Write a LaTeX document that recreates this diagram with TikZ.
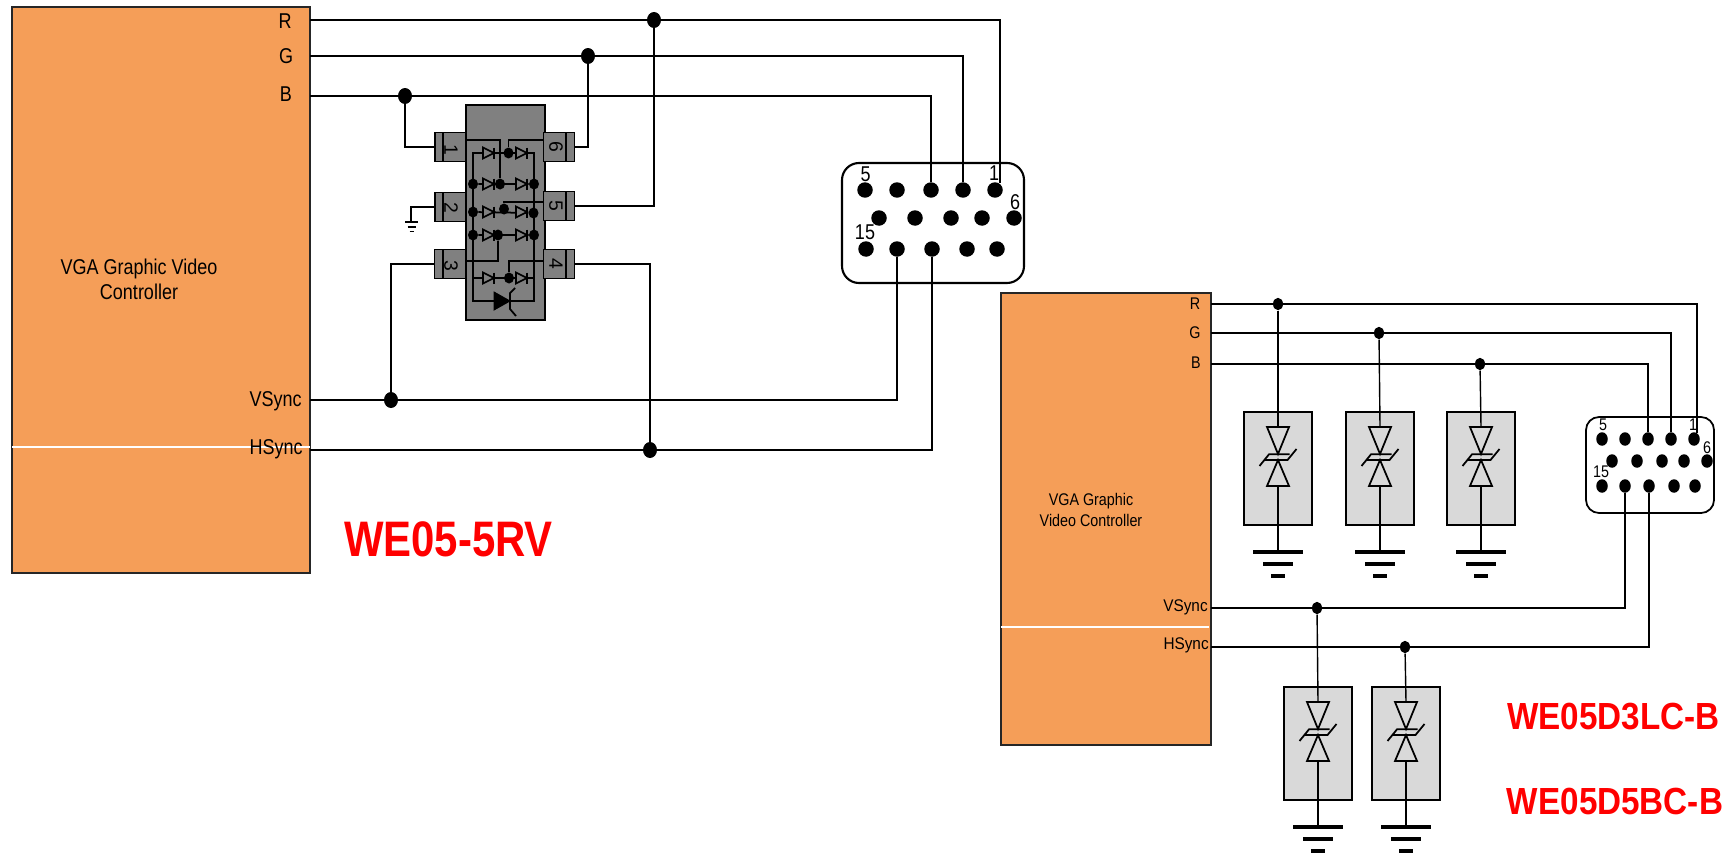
\documentclass[tikz,border=0pt]{standalone}
\usepackage{fontspec}
\setmainfont{Liberation Sans}
\usetikzlibrary{shapes.geometric}
\definecolor{ctrlorange}{HTML}{F59E58}
\definecolor{chipgray}{HTML}{808080}
\definecolor{tvsgray}{HTML}{D9D9D9}
\tikzset{
      wire/.style={draw=black, line width=1.15pt},
      thinwire/.style={draw=black, line width=1pt},
      ctrlbox/.style={draw=black!85, fill=ctrlorange, line width=1.2pt},
      bigdot/.style={shape=ellipse, fill=black, inner sep=0, minimum width=.28cm, minimum height=.32cm},
      smalldot/.style={shape=ellipse, fill=black, inner sep=0, minimum width=.2cm, minimum height=.25cm},
      chipdot/.style={shape=ellipse, fill=black, inner sep=0, minimum width=.2cm, minimum height=.22cm},
      bigpin/.style={shape=circle, fill=black, inner sep=0, minimum size=.31cm},
      smallpin/.style={shape=ellipse, fill=black, inner sep=0, minimum width=.23cm, minimum height=.27cm},
      chippin/.style={shape=rectangle, draw=black, fill=chipgray, line width=1pt, inner sep=0, minimum width=.62cm, minimum height=.58cm},
      pinnum/.style={inner sep=0, font=\fontsize{11}{13}\selectfont},
      biglabel/.style={inner sep=0, xscale=.84, transform shape, font=\fontsize{12.2}{14.2}\selectfont, align=center},
      smalllabel/.style={inner sep=0, xscale=.85, transform shape, font=\fontsize{9.6}{11.5}\selectfont, align=center},
      partlabel/.style={inner sep=0, text=red, transform shape, font=\fontsize{21.5}{26}\selectfont\bfseries},
      diode/.pic={
            \draw[fill=chipgray, line width=.9pt] (-5.5,-5.5) -- (-5.5,5.5) -- (5.5,0) -- cycle;
            \draw[line width=.9pt] (5.5,-5.5) -- (5.5,5.5);
      },
      tvs/.pic={
            \draw[fill=tvsgray, line width=1pt] (-34,0) rectangle (34,113);
            \coordinate (-in) at (0,0);
            \coordinate (-top) at (0,15);
            \coordinate (-bot) at (0,74);
            \draw[line width=1pt] (-11,15) -- (11,15) -- (0,42) -- cycle;
            \draw[line width=1pt] (-11,74) -- (11,74) -- (0,48) -- cycle;
            \draw[line width=1pt] (-18.5,54) -- (-9,42.3) -- (11.5,42.3);
            \draw[line width=1pt] (-13,48) -- (9.5,48) -- (18.5,37);
            \draw[line width=2.4pt] (-25,140) -- (25,140);
            \draw[line width=2.4pt] (-15,152) -- (15,152);
            \draw[line width=2.4pt] (-7,164) -- (7,164);
            \coordinate (-gnd) at (0,140);
      },
}
\begin{document}
\begin{tikzpicture}[x=.02cm, y=-.02cm]
        \useasboundingbox (0,0) rectangle (1733,855);

        % left controller
        \draw[ctrlbox] (12,7) rectangle (310,573);
        \draw[white, line width=.7pt] (12,447) -- (310,447);
        \node[biglabel] (ctrla) at (139,279) {VGA Graphic Video\\Controller};
        \node[biglabel] (lblr) at (285,21) {R};
        \node[biglabel] (lblg) at (286,56) {G};
        \node[biglabel] (lblb) at (286,94) {B};
        \node[biglabel, anchor=east] (lblv) at (302,401) {VSync};
        \node[biglabel, anchor=east] (lblh) at (303,449) {HSync};
        \node[partlabel, xscale=.84, font=\fontsize{28.4}{32}\selectfont\bfseries] (parta) at (448.5,539) {WE05-5RV};

        \coordinate (outr) at (310,20);
        \coordinate (outg) at (310,56);
        \coordinate (outb) at (310,96);
        \coordinate (outv) at (310,400);
        \coordinate (outh) at (310,450);

        % chip
        \draw[fill=chipgray, line width=1.2pt] (466,105) rectangle (545,320);
        \node[chippin] (pina) at (450.5,147) {};
        \node[chippin] (pinb) at (450.5,207) {};
        \node[chippin] (pinc) at (450,264) {};
        \node[chippin] (pinf) at (559,147) {};
        \node[chippin] (pine) at (559,206) {};
        \node[chippin] (pind) at (559,264) {};
        \draw[line width=1pt] (443,133) -- (443,162) (443,193) -- (443,222) (443,250) -- (443,278);
        \draw[line width=1pt] (566,133) -- (566,161) (566,192) -- (566,220) (566,250) -- (566,278);
        \node[pinnum, rotate=-90] (numa) at (451,150) {1};
        \node[pinnum, rotate=-90] (numb) at (451,207.5) {2};
        \node[pinnum, rotate=-90] (numc) at (451,266) {3};
        \node[pinnum, rotate=-90] (numf) at (556,147) {6};
        \node[pinnum, rotate=-90] (nume) at (556,206) {5};
        \node[pinnum, rotate=-90] (numd) at (556,264) {4};

        % chip inside
        \coordinate (railat) at (473,153);
        \coordinate (railab) at (473,301);
        \coordinate (railbt) at (534,153);
        \coordinate (railbb) at (534,301);
        \coordinate (pinain) at (466,140);
        \coordinate (pinfin) at (544,140);
        \coordinate (pinein) at (544,202);
        \coordinate (pincin) at (466,261);
        \coordinate (pindin) at (544,261);
        \draw[line width=1pt] (railat) -- (railab) -- (railbb) -- (railbt) -- cycle;
        \node[chipdot] (da) at (508.5,153) {};
        \node[chipdot] (db) at (473,184) {};
        \node[chipdot] (dc) at (500,184) {};
        \node[chipdot] (dd) at (534,184) {};
        \node[chipdot] (de) at (473,212) {};
        \node[chipdot] (df) at (504,209) {};
        \node[chipdot] (dg) at (533.5,213) {};
        \node[chipdot] (dh) at (473,235) {};
        \node[chipdot] (di) at (498,235) {};
        \node[chipdot] (dj) at (534,235) {};
        \node[chipdot] (dk) at (509,278) {};
        \draw[line width=1pt] (db) -- (dd) (de) -- (dg) (dh) -- (dj);
        \draw[line width=1pt] (473,278) -- (534,278);
        \draw[line width=1pt] (pinain) -| (dc);
        \draw[line width=1pt] (pinfin) -| (da);
        \draw[line width=1pt] (pinein) -| (df);
        \draw[line width=1pt] (di) |- (pincin);
        \draw[line width=1pt] (pindin) -| (dk);
        \foreach \rowy in {153,184,212,235,278} {
              \pic at (488.5,\rowy) {diode};
              \pic at (521.5,\rowy) {diode};
        }
        \draw[fill=black, line width=.5pt] (494,292) -- (494,310) -- (510,301) -- cycle;
        \draw[line width=1pt] (515,288) -- (510,293) -- (510,309) -- (516,316);

        % ground of pin 2
        \coordinate (gndb) at (411,222);
        \draw[line width=1pt] (pinb) -| (gndb);
        \draw[line width=1pt] (405,222) -- (418,222) (407.5,227) -- (415.5,227) (409.5,231.5) -- (413.5,231.5);

        % left connector
        \draw[line width=1.2pt, rounded corners=.34cm] (842,163) rectangle (1024,283);
        \node[bigpin] (caa) at (865,190) {};
        \node[bigpin] (cab) at (897,190) {};
        \node[bigpin] (cac) at (931,190) {};
        \node[bigpin] (cad) at (963,190) {};
        \node[bigpin] (cae) at (995,190) {};
        \node[bigpin] (caf) at (879,218) {};
        \node[bigpin] (cag) at (915,218) {};
        \node[bigpin] (cah) at (951,218) {};
        \node[bigpin] (cai) at (982,218) {};
        \node[bigpin] (caj) at (1014,218) {};
        \node[bigpin] (cak) at (866,249) {};
        \node[bigpin] (cal) at (897,249) {};
        \node[bigpin] (cam) at (932,249) {};
        \node[bigpin] (can) at (967,249) {};
        \node[bigpin] (cao) at (997,249) {};
        \node[biglabel] (cnuma) at (865.5,174) {5};
        \node[biglabel] (cnumb) at (994,173) {1};
        \node[biglabel] (cnumc) at (1015,202) {6};
        \node[biglabel] (cnumd) at (865,232) {15};
        \coordinate (cardr) at (1000,183);

        % left wires
        \node[bigdot] (jr) at (654,20) {};
        \node[bigdot] (jg) at (588,56) {};
        \node[bigdot] (jb) at (405,96) {};
        \node[bigdot] (jv) at (391,400) {};
        \node[bigdot] (jh) at (650,450) {};
        \draw[wire] (outr) -- (jr) -| (cardr);
        \draw[wire] (outg) -- (jg) -| (cad);
        \draw[wire] (outb) -- (jb) -| (cac);
        \draw[wire] (outv) -- (jv) -| (cal);
        \draw[wire] (outh) -- (jh) -| (cam);
        \draw[wire] (jb) |- (pina);
        \draw[wire] (jg) |- (pinf);
        \draw[wire] (jr) |- (pine);
        \draw[wire] (jv) |- (pinc);
        \draw[wire] (jh) |- (pind);

        % right controller
        \draw[ctrlbox] (1001,293) rectangle (1211,745);
        \draw[white, line width=.7pt] (1001,627) -- (1209,627);
        \node[smalllabel] (ctrlb) at (1091,510) {VGA Graphic\\Video Controller};
        \node[smalllabel] (lbrr) at (1195,304) {R};
        \node[smalllabel] (lbrg) at (1195,333) {G};
        \node[smalllabel] (lbrb) at (1196,363) {B};
        \node[smalllabel, xscale=1.07, anchor=east] (lbrv) at (1208,607) {VSync};
        \node[smalllabel, xscale=1.07, anchor=east] (lbrh) at (1209,645) {HSync};
        \node[partlabel, xscale=.88] (partb) at (1613.5,717) {WE05D3LC-B};
        \node[partlabel, xscale=.88] (partc) at (1615,801) {WE05D5BC-B};

        \coordinate (outrr) at (1211,304);
        \coordinate (outrg) at (1211,333);
        \coordinate (outrb) at (1211,364);
        \coordinate (outrv) at (1211,608);
        \coordinate (outrh) at (1211,647);

        % right protectors
        \pic (tvsa) at (1278,412) {tvs};
        \pic (tvsb) at (1380,412) {tvs};
        \pic (tvsc) at (1481,412) {tvs};
        \pic (tvsd) at (1318,687) {tvs};
        \pic (tvse) at (1406,687) {tvs};

        % right connector
        \draw[line width=1pt, rounded corners=.26cm] (1586,417) rectangle (1714,513);
        \node[smallpin] (cba) at (1602,439) {};
        \node[smallpin] (cbb) at (1625,439) {};
        \node[smallpin] (cbc) at (1648,439) {};
        \node[smallpin] (cbd) at (1671,439) {};
        \node[smallpin] (cbe) at (1694,439) {};
        \node[smallpin] (cbf) at (1612,461) {};
        \node[smallpin] (cbg) at (1637,461) {};
        \node[smallpin] (cbh) at (1662,461) {};
        \node[smallpin] (cbi) at (1684,461) {};
        \node[smallpin] (cbj) at (1707,461) {};
        \node[smallpin] (cbk) at (1602,486) {};
        \node[smallpin] (cbl) at (1625,486) {};
        \node[smallpin] (cbm) at (1649,486) {};
        \node[smallpin] (cbn) at (1674,486) {};
        \node[smallpin] (cbo) at (1695,486) {};
        \node[smalllabel] (dnuma) at (1603,425) {5};
        \node[smalllabel] (dnumb) at (1693,425) {1};
        \node[smalllabel] (dnumc) at (1707,448) {6};
        \node[smalllabel] (dnumd) at (1601,472) {15};
        \coordinate (cbrr) at (1697,433);

        % right wires
        \node[smalldot] (jrr) at (1278,304) {};
        \node[smalldot] (jrg) at (1379,333) {};
        \node[smalldot] (jrb) at (1480,364) {};
        \node[smalldot] (jrv) at (1317,608) {};
        \node[smalldot] (jrh) at (1405,647) {};
        \draw[thinwire] (outrr) -- (jrr) -| (cbrr);
        \draw[thinwire] (outrg) -- (jrg) -| (cbd);
        \draw[thinwire] (outrb) -- (jrb) -| (cbc);
        \draw[thinwire] (outrv) -- (jrv) -| (cbl);
        \draw[thinwire] (outrh) -- (jrh) -| (cbm);
        \foreach \jname/\tname in {jrr/tvsa, jrg/tvsb, jrb/tvsc, jrv/tvsd, jrh/tvse} {
              \draw[line width=.8pt] (\jname) -- (\tname-top);
              \draw[line width=.8pt] (\tname-bot) -- (\tname-gnd);
        }
\end{tikzpicture}
\end{document}
